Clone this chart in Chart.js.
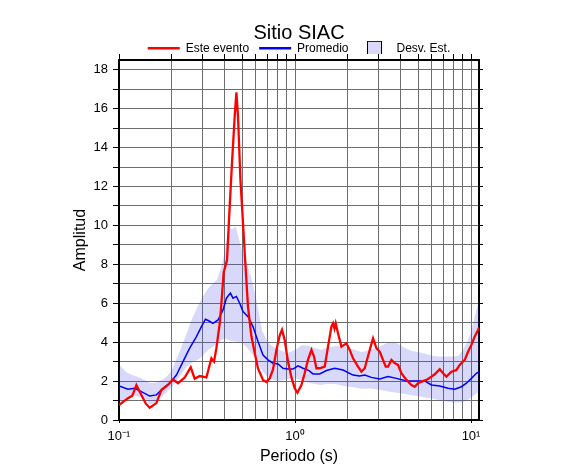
<!DOCTYPE html>
<html>
<head>
<meta charset="utf-8">
<script src="https://cdn.jsdelivr.net/npm/chart.js@4.4.1/dist/chart.umd.min.js"></script>
<style>
  html, body { margin: 0; padding: 0; background: #fff; }
  #c { display: block; }
</style>
</head>
<body>
<canvas id="c" width="586" height="475"></canvas>
<script>
// ---- data ----
const chartTitle = 'Sitio SIAC';
const seriesNames = ['Este evento', 'Promedio', 'Desv. Est.'];

// "Este evento" (red)
const eventPeriod = [0.1,0.1125,0.119,0.1256,0.134,0.1418,0.1494,0.1631,0.1741,0.1898,0.2026,0.2164,0.2362,0.2555,0.2692,0.2874,0.3138,0.335,0.3466,0.3576,0.3735,0.3818,0.3935,0.4108,0.4217,0.4385,0.4543,0.4645,0.4744,0.4896,0.5065,0.5226,0.5408,0.5653,0.5902,0.6163,0.6578,0.6877,0.7181,0.7499,0.7841,0.8187,0.8437,0.8738,0.9125,0.9539,0.9961,1.032,1.087,1.135,1.186,1.24,1.282,1.323,1.381,1.475,1.54,1.61,1.644,1.675,1.703,1.755,1.835,1.959,2.046,2.136,2.28,2.384,2.489,2.658,2.775,2.901,3.029,3.162,3.276,3.376,3.529,3.685,3.847,4.022,4.295,4.585,4.787,5.0,5.227,5.58,5.957,6.22,6.642,6.934,7.249,7.738,8.26,8.626,9.209,9.616,10.05,10.5,10.96,11.1];
const eventAmp = [0.77,1.12,1.25,1.8,1.29,0.85,0.63,0.87,1.54,1.8,2.09,1.89,2.18,2.71,2.12,2.26,2.19,3.17,3.0,3.69,4.97,6.0,7.6,8.2,10.3,13.2,15.6,16.84,15.6,12.35,10.1,8.0,5.8,4.3,3.45,2.65,2.06,1.95,2.14,2.6,3.6,4.35,4.63,4.11,3.0,2.2,1.63,1.4,1.8,2.4,3.1,3.6,3.26,2.66,2.66,2.74,3.77,4.8,4.97,4.7,4.97,4.46,3.77,3.94,3.6,3.17,2.74,2.48,2.66,3.6,4.2,3.69,3.51,3.09,2.74,2.74,3.09,2.92,2.83,2.4,2.06,1.8,1.71,1.89,1.97,2.06,2.23,2.35,2.61,2.4,2.23,2.48,2.57,2.83,3.09,3.51,3.86,4.29,4.63,4.75];

// "Promedio" (blue)
const meanPeriod = [0.1,0.1125,0.1228,0.134,0.1494,0.1631,0.1778,0.1941,0.2119,0.231,0.2521,0.2754,0.294,0.3097,0.3234,0.342,0.3652,0.3899,0.4076,0.4295,0.4443,0.4645,0.4851,0.5065,0.5408,0.5772,0.6163,0.6578,0.7023,0.7499,0.8006,0.8548,0.9125,0.9741,1.04,1.11,1.201,1.266,1.381,1.508,1.681,1.874,2.136,2.331,2.489,2.718,3.029,3.376,3.768,4.295,4.896,5.456,5.957,6.642,7.401,8.079,8.821,9.417,10.05,10.73,11.1];
const meanAmp = [1.75,1.58,1.63,1.46,1.23,1.29,1.63,1.89,2.31,3.0,3.69,4.29,4.8,5.18,5.1,4.97,5.14,5.66,6.26,6.52,6.26,6.35,6.0,5.57,5.31,4.8,4.03,3.34,3.09,2.92,2.88,2.66,2.62,2.62,2.78,2.66,2.54,2.37,2.37,2.54,2.66,2.57,2.31,2.26,2.31,2.19,2.11,2.23,2.14,2.01,2.01,2.01,1.8,1.75,1.63,1.58,1.71,1.89,2.14,2.4,2.48];

// "Desv. Est." band (upper / lower edges)
const bandPeriod = [0.1,0.11,0.12,0.13,0.14,0.15,0.16,0.17,0.18,0.19,0.2,0.22,0.24,0.26,0.28,0.3,0.32,0.34,0.36,0.38,0.4,0.42,0.44,0.46,0.48,0.5,0.53,0.56,0.6,0.65,0.7,0.75,0.8,0.9,1.0,1.1,1.2,1.3,1.4,1.5,1.7,1.9,2.1,2.4,2.7,3.0,3.4,3.8,4.2,4.6,5.0,5.5,6,6.5,7,7.5,8,8.5,9,9.5,10,10.5,11.1];
const bandUpper = [2.85,2.45,2.3,2.2,2.06,1.9,1.92,2.0,2.12,2.3,2.6,3.45,4.35,5.2,5.85,6.35,6.75,7.0,7.2,7.8,8.7,9.9,9.8,9.95,9.3,8.7,8.1,7.4,6.3,4.6,4.0,3.77,3.65,3.43,3.6,3.85,3.8,3.7,3.6,3.7,3.8,3.77,3.65,3.5,3.6,3.75,4.0,3.95,3.7,3.55,3.5,3.4,3.3,3.26,3.26,3.26,3.26,3.3,3.6,4.0,4.5,5.3,6.2];
const bandLower = [1.0,1.05,1.25,1.2,1.05,0.78,0.9,1.1,1.3,1.5,1.68,2.2,2.7,2.95,3.1,3.3,3.6,3.75,3.9,4.1,4.2,4.1,4.05,4.03,4.0,3.94,3.75,3.5,3.1,2.55,2.2,2.05,2.0,2.1,2.14,2.05,1.9,1.85,1.8,1.85,1.85,1.75,1.7,1.6,1.62,1.55,1.46,1.4,1.33,1.27,1.22,1.15,1.1,1.03,0.97,0.92,0.9,0.9,0.93,1.0,1.15,1.3,1.46];

// axes / ticks
const xMin = 0.1, xMax = 11.1;
const yMin = 0, yMax = 18.5;
const xTickValues = [0.1,0.2,0.3,0.4,0.5,0.6,0.7,0.8,0.9,1,2,3,4,5,6,7,8,9,10];
const xTickLabels = { '0.1': '10\u207B\u00B9', '1': '10\u2070', '10': '10\u00B9' };
const yTickValues = [0,1,2,3,4,5,6,7,8,9,10,11,12,13,14,15,16,17,18];
const xAxisTitle = 'Periodo (s)';
const yAxisTitle = 'Amplitud';

// ---- styles ----
const RED = '#ff0000', BLUE = '#0000ff';
const BAND_FILL = 'rgba(60,60,235,0.2)';
const BAND_SWATCH = 'rgb(216,216,251)';
const GRID = '#6e6e6e';
const FONT = '"Liberation Sans", Arial, Helvetica, sans-serif';
Chart.defaults.font.family = FONT;
Chart.defaults.color = '#000';

const toXY = (xs, ys) => xs.map((x, i) => ({ x: x, y: ys[i] }));
const isDecade = v => Math.abs(Math.log10(v) - Math.round(Math.log10(v))) < 1e-9;

// legend swatch for band
const swatch = document.createElement('canvas');
swatch.width = 15; swatch.height = 15;
(function () {
  const g = swatch.getContext('2d');
  g.fillStyle = BAND_SWATCH; g.fillRect(0.5, 0.5, 14, 14);
  g.strokeStyle = '#000'; g.lineWidth = 1; g.strokeRect(0.5, 0.5, 14, 14);
})();

const setXTicks = s => { s.ticks = xTickValues.map(v => ({ value: v, major: isDecade(v) })); };
const setYTicks = s => { s.ticks = yTickValues.map(v => ({ value: v })); };

new Chart(document.getElementById('c'), {
  type: 'line',
  data: {
    datasets: [
      { label: seriesNames[0], data: toXY(eventPeriod, eventAmp), borderColor: RED, borderWidth: 2.3, pointRadius: 0, fill: false, tension: 0, xAxisID: 'x', yAxisID: 'y' },
      { label: seriesNames[1], data: toXY(meanPeriod, meanAmp), borderColor: BLUE, borderWidth: 1.5, pointRadius: 0, fill: false, tension: 0, xAxisID: 'x', yAxisID: 'y' },
      { label: seriesNames[2], data: toXY(bandPeriod, bandUpper), borderWidth: 0, borderColor: 'rgba(0,0,0,0)', backgroundColor: BAND_FILL, pointRadius: 0, fill: '+1', tension: 0, xAxisID: 'x', yAxisID: 'y' },
      { label: seriesNames[2] + ' (inf)', data: toXY(bandPeriod, bandLower), borderWidth: 0, borderColor: 'rgba(0,0,0,0)', pointRadius: 0, fill: false, tension: 0, xAxisID: 'x', yAxisID: 'y' }
    ]
  },
  options: {
    responsive: false,
    animation: false,
    events: [],
    layout: { padding: { left: 60, right: 48, top: 10, bottom: 5 } },
    plugins: {
      title: {
        display: true, text: chartTitle, color: '#000',
        font: { size: 20, weight: 'normal' },
        padding: { top: 11.5, bottom: -13.2 }
      },
      legend: {
        display: true,
        maxHeight: 21.7,
        labels: {
          usePointStyle: true, pointStyleWidth: 32, padding: 10,
          color: '#000', font: { size: 12 },
          generateLabels: () => [
            { text: seriesNames[0], fillStyle: RED, strokeStyle: RED, lineWidth: 2.5, pointStyle: 'line', hidden: false, fontColor: '#000', datasetIndex: 0 },
            { text: seriesNames[1], fillStyle: BLUE, strokeStyle: BLUE, lineWidth: 2.5, pointStyle: 'line', hidden: false, fontColor: '#000', datasetIndex: 1 },
            { text: seriesNames[2], fillStyle: BAND_SWATCH, strokeStyle: '#000', lineWidth: 0, pointStyle: swatch, hidden: false, fontColor: '#000', datasetIndex: 2 }
          ]
        }
      },
      tooltip: { enabled: false }
    },
    scales: {
      x: {
        type: 'logarithmic', position: 'bottom', min: xMin, max: xMax,
        afterBuildTicks: setXTicks,
        afterFit: s => { s.height = 50; },
        grid: { color: GRID, lineWidth: 1, tickLength: 3, tickColor: ctx => (ctx.tick && isDecade(ctx.tick.value)) ? '#000' : 'rgba(0,0,0,0)' },
        border: { color: '#000', width: 2 },
        ticks: { autoSkip: false, maxRotation: 0, minRotation: 0, padding: 6, color: '#000', font: { size: 13 },
                 callback: v => xTickLabels[String(v)] || '' },
        title: { display: true, text: xAxisTitle, color: '#000', font: { size: 16 }, padding: { top: 0, bottom: 4 } }
      },
      x2: {
        type: 'logarithmic', position: 'top', min: xMin, max: xMax,
        afterBuildTicks: setXTicks,
        grid: { drawOnChartArea: false, tickLength: 6, tickColor: '#000' },
        border: { color: '#000', width: 2 },
        ticks: { display: false }
      },
      y: {
        type: 'linear', position: 'left', min: yMin, max: yMax,
        afterBuildTicks: setYTicks,
        afterFit: s => { s.width = 59; },
        grid: { color: GRID, lineWidth: 1, tickLength: 6, tickColor: '#000' },
        border: { color: '#000', width: 2 },
        ticks: { padding: 5, color: '#000', font: { size: 13 }, callback: v => (v % 2 === 0 ? String(v) : '') },
        title: { display: true, text: yAxisTitle, color: '#000', font: { size: 16 }, padding: { top: 11, bottom: 0 } }
      },
      y2: {
        type: 'linear', position: 'right', min: yMin, max: yMax,
        afterBuildTicks: setYTicks,
        afterFit: s => { s.width = 59; },
        grid: { drawOnChartArea: false, tickLength: 4, tickColor: '#000' },
        border: { color: '#000', width: 2 },
        ticks: { display: false }
      }
    }
  }
});
</script>
</body>
</html>
